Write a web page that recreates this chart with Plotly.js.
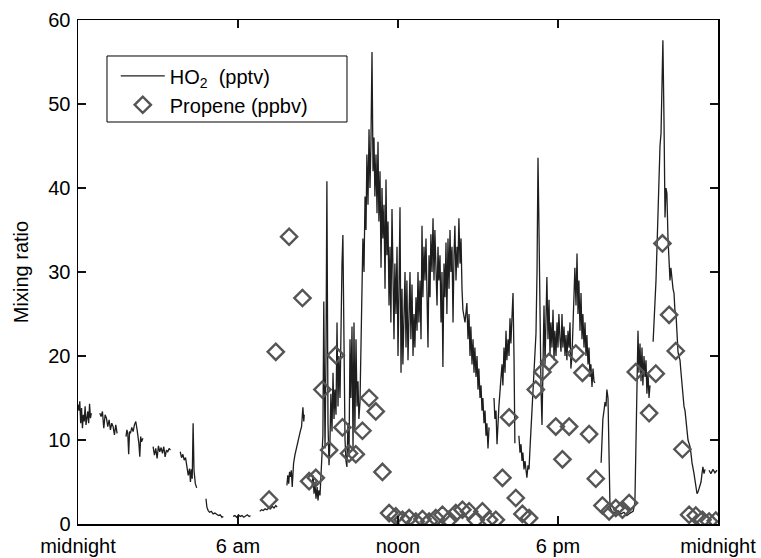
<!DOCTYPE html>
<html><head><meta charset="utf-8">
<script src="https://cdn.plot.ly/plotly-3.0.1.min.js"></script>
<style>html,body{margin:0;padding:0;background:#fff}#chart{width:761px;height:558px}</style>
</head><body><div id="chart"></div>
<script>
// x in minutes since midnight
const timeTicks = [0, 360, 720, 1080, 1440];
const timeTickLabels = ['midnight', '6 am', 'noon', '6 pm', 'midnight'];
const mixingTicks = [0, 10, 20, 30, 40, 50, 60];

const ho2Minutes = [
 0,2,4,6,8,10,12,14,16,18,20,22,24,26,28,30, 40,
 49,52,55,58,61,64,67,70,73,76,79,82,85,88, 98,
 108,110,112,114,116,118,121,124,127,130,133,135,137,139,141,143,146, 158,
 169,172,175,178,181,184,187,190,193,196,199,202,205,208, 220,
 230,233,236,239,242,245,248,251,253,255,257,259,261,264,267, 278,
 288,290,293,296,300,304,308,312,316,320,324,327, 338,
 349,353,357,361,365,369,373,377,381,385,388, 398,
 409,413,417,421,425,429,433,437,441,445,448, 459,
 470,472,474,476,478,480,482,485,488,491,494,497,500,503,506,508,509, 518,
 526.5,529,531,533,535.5,538,540,542,544.5,547,549,551,553,555.8,558,560,562.5,564.8,567,569,571.5,573.8,576,578,580.5,582.8,585,587,589.5,591.8,594,596,598.5,600.8,603,605,607.5,609.8,612,614,616.5,618.8,621,623,625.5,627.8,630,632,634.5,636.8,639,641,643.5,645.8,648,650,652.5,654.8,657,659,661.5,663.8,666,668,670.5,672.8,675,677,679.5,681.8,684,686,688.5,690.8,693,695,697.5,699.8,702,704,706.5,708.8,711,713,715.5,717.8,720,722,724.5,726.8,729,731,733.5,735.8,738,740,742.5,744.8,747,749,751.5,753.8,756,758,760.5,762.8,765,767,769.5,771.8,774,776,778.5,780.8,783,785,787.5,789.8,792,794,796.5,798.8,801,803,805.5,807.8,810,812,814.5,816.8,819,821,823.5,825.8,828,830,832.5,834.8,837,839,841.5,843.8,846,848,850.5,852.8,855,857,859.5,861.8,864,866,870.8,875,877.5,879.8,882,884,886.5,888.8,891,893,895.5,897.8,900,902,904.5,906.8,909,911,913.5,915.8,918,920,922.5,924.8, 929,
 936,938,940.5,942.8,947,951.8,954,956,958.5,960.8,963,965,967.5,969.8,972,974,976.5,978.8,981,983, 988,
 992,994.5,996.8,999,1001,1003.5,1005.8,1008,1010,1012.5,1014.8,1017,1019,1021.5,1023.8,1026,1028,1030.5,1032.8,1035,1037,1039.5,1041.8,1044,1046,1048.5,1050.8,1053,1055,1057.5,1059.8,1062,1064,1066.5,1068.8,1071,1073,1075.5,1077.8,1080,1082,1084.5,1086.8,1089,1091,1093.5,1095.8,1098,1100,1102.5,1104.8,1107,1109,1111.5,1113.8,1116,1118,1120.5,1122.8,1125,1127,1129.5,1131.8,1134,1136,1138.5,1140.8,1143,1145,1147.5,1149.8,1152,1154,1156.5,1158.8,1161,1163, 1170,
 1177,1179,1181,1183.5,1185.8,1188,1190,1192.5,1194.8,1197,1201.5,1208,1215,1222,1228.5,1235,1242,1249,1253,1255.5,1257.8,1260,1262,1264.5,1266.8,1269,1271,1273.5,1275.8,1278,1280,1282.5,1284.8,1287, 1290,
 1294,1296,1298,1300.5,1302.8,1305,1307,1309.5,1311.8,1314,1316,1318.5,1320.8,1323,1325,1327.5,1329.8,1332,1334,1336.5,1338.8,1341,1343,1345.5,1347.8,1350,1352,1354.5,1356.8,1359,1361,1363.5,1365.8,1368,1370,1372.5,1374.8,1377,1379,1381.5,1386,1390.5,1392.8,1395,1399.5,1401.8,1404,1406,1408.5,1410.8, 1415,
 1419.8,1424,1428.8,1433,1437.8
];
const ho2Values = [
 14.2,13.5,14.6,12.0,13.8,11.4,13.0,12.2,14.0,11.8,12.6,13.4,12.0,14.3,12.6,13.2, null,
 13.2,12.8,13.4,11.4,13.0,12.6,11.6,12.4,11.2,12.0,11.6,10.6,11.8,10.8, null,
 10.4,11.2,10.8,8.3,11.0,10.8,11.5,11.0,11.8,12.2,11.2,10.6,9.6,8.0,10.4,9.8,10.2, null,
 9.2,8.2,9.0,7.8,9.3,8.6,9.1,8.4,9.2,8.0,8.8,8.6,9.0,8.8, null,
 8.6,7.9,8.3,7.6,7.9,6.7,5.8,6.6,5.0,6.5,5.4,12.0,6.4,4.8,4.3, null,
 3.0,2.0,1.6,1.4,1.5,1.2,1.3,1.1,1.0,1.1,0.8,0.9, null,
 0.9,1.0,0.8,1.1,0.9,1.0,0.8,1.0,1.1,0.9,1.0, null,
 1.5,1.7,1.6,1.8,1.7,1.9,1.8,2.1,1.9,2.2,2.0, null,
 4.6,5.8,4.8,6.2,5.6,6.4,4.4,7.2,8.2,9.0,9.6,10.2,11.0,11.6,13.9,12.2,13.0, null,
 4.5,5.8,3.6,5.0,3.0,4.4,2.8,4.0,3.4,5.6,8.0,10.5,26.5,9.0,20,40.8,12,7.0,10.0,15.5,11.0,18.0,12.5,16.0,13.0,24.0,14.0,20.0,15.0,28.0,31.0,34.4,18.0,10.0,7.5,6.8,12.0,8.0,22.0,15.0,23.5,9.0,24.0,11.0,22.0,14.0,17.0,12.5,14.5,20.0,26.0,34.0,30.0,39.0,35.0,44.0,38.0,47.0,40.0,45.0,56.2,42.0,46.0,39.0,44.0,37.0,45.5,36.0,42.0,30.5,40.0,34.0,38.0,28.0,41.0,32.0,36.0,26.0,33.0,24.0,37.5,29.0,22.0,31.0,25.0,33.0,20.0,27.0,37.7,18.0,28.0,19.0,26.0,30.0,21.0,29.0,19.5,27.0,30.0,22.0,28.5,20.0,25.0,21.0,27.0,23.0,30.0,24.0,29.0,22.0,35.5,27.0,33.0,29.0,34.0,28.0,21.0,32.0,27.0,34.5,30.0,36.4,29.0,35.0,31.0,26.0,33.0,29.0,32.0,24.0,30.0,18.7,31.0,27.0,33.5,25.0,34.0,28.0,35.0,30.0,33.0,24.0,32.0,35.5,29.0,33.0,30.5,36.4,31.0,34.0,28.0,25.5,24.0,26.3,22.0,25.0,20.0,23.5,19.0,22.0,18.0,21.0,17.5,20.0,16.0,18.5,15.0,16.5,13.5,15.0,12.0,13.5,10.5,12.0,9.0,11.5, null,
 15.0,12.5,13.5,9.5,14.0,17.0,19.0,16.5,21.0,18.0,23.0,19.5,22.0,20.0,24.5,21.5,25.0,27.5,20.0,9.6, null,
 10.5,8.5,9.5,7.5,8.5,6.5,7.5,6.0,5.5,7.0,6.5,9.0,11.0,13.0,15.0,17.0,19.5,22.7,30.0,43.6,36.0,24.0,16.0,11.8,21.0,26.0,19.0,25.0,29.4,22.0,26.7,20.0,24.0,21.0,25.5,19.5,23.0,20.0,24.0,21.0,25.0,22.0,20.5,25.0,21.0,23.5,20.0,22.5,19.5,23.0,21.0,24.0,18.5,20.0,24.0,27.0,30.5,26.0,32.2,25.0,29.0,23.0,27.5,22.0,25.0,21.0,24.0,20.0,22.5,19.0,21.0,17.5,19.0,16.3,18.5,17.0,16.8, null,
 7.3,11.0,12.5,13.5,14.5,14.0,16.0,15.0,10.0,2.0,1.5,1.3,1.6,1.2,1.4,1.0,1.3,1.5,2.5,12.0,20.0,23.0,18.0,21.5,17.0,21.0,16.5,20.0,17.5,19.5,15.5,18.0,15.0,16.5, null,
 21.7,23.5,26.0,29.0,33.0,37.5,42.5,45.0,46.5,52.0,57.6,48.0,36.5,40.0,39.4,34.0,31.0,29.0,30.5,28.5,28.0,27.5,25.5,25.0,22.5,20.5,20.0,19.5,18.0,16.5,16.0,14.0,13.5,12.0,11.0,10.0,9.6,9.2,8.5,7.3,6.0,4.5,3.6,3.8,4.5,5.0,6.0,6.8,6.0,6.5, null,
 6.4,6.0,6.5,6.1,6.4
];

const propeneMinutes = [430,445,475,505,520,535,550,565,580,595,610,625,640,655,670,685,
 700,715,730,745,760,775,790,805,820,835,850,865,880,895,910,925,940,
 955,970,985,1000,1015,1030,1045,1060,1075,1090,1105,1120,1135,1150,1165,1180,1195,1210,1225,1240,1255,
 1285,1300,1315,1330,1345,1360,1375,1390,1405,1420,1435];
const propeneValues = [2.9,20.5,34.2,26.9,5.1,5.5,16.0,8.8,20.1,11.5,8.4,8.3,11.1,15.0,13.4,6.2,
 1.3,0.9,0.5,0.7,0.3,0.6,0.3,0.7,1.1,0.5,1.3,1.7,1.5,0.5,1.5,0.5,0.5,
 5.5,12.7,3.1,1.2,0.7,16.0,18.1,19.3,11.6,7.7,11.6,20.3,18.0,10.7,5.4,2.2,1.5,1.9,1.7,2.5,18.1,
 13.2,17.9,33.4,24.9,20.6,8.9,1.1,1.0,0.5,0.3,0.4];

const FONT = 'Liberation Sans, Arial, Helvetica, sans-serif';

const traces = [
  {
    x: ho2Minutes, y: ho2Values, type: 'scatter', mode: 'lines',
    name: 'HO<sub>2</sub>  (pptv)',
    line: {color: '#1e1e1e', width: 1.3},
    connectgaps: false
  },
  {
    x: propeneMinutes, y: propeneValues, type: 'scatter', mode: 'markers',
    name: 'Propene (ppbv)',
    marker: {symbol: 'diamond-open', size: 12.5, color: '#555', line: {color: '#555', width: 2.4}}
  }
];

const axisCommon = {
  showgrid: false, zeroline: false, showline: true, linecolor: '#000', linewidth: 1.5,
  mirror: 'ticks', ticks: 'inside', ticklen: 8, tickwidth: 2, tickcolor: '#111',
  tickfont: {family: FONT, size: 20, color: '#000'}
};

const layout = {
  width: 761, height: 558,
  margin: {l: 78, r: 43, t: 20, b: 34, pad: 0},
  showlegend: true,
  legend: {
    x: 0.059, y: 0.928, xanchor: 'left', yanchor: 'top',
    bgcolor: 'rgba(0,0,0,0)', borderwidth: 0,
    itemwidth: 44,
    font: {family: FONT, size: 20, color: '#000'}
  },
  shapes: [{
    type: 'rect', xref: 'paper', yref: 'paper',
    x0: 0.0453, x1: 0.4203, y0: 0.7976, y1: 0.9286,
    line: {color: '#000', width: 1}, fillcolor: 'rgba(0,0,0,0)', layer: 'above'
  }],
  xaxis: Object.assign({}, axisCommon, {
    range: [0, 1440], tickvals: timeTicks, ticktext: timeTickLabels,
    ticklabelstandoff: 3
  }),
  yaxis: Object.assign({}, axisCommon, {
    range: [0, 60], tickvals: mixingTicks,
    ticklabelstandoff: 2,
    title: {text: 'Mixing ratio', font: {family: FONT, size: 20, color: '#000'}, standoff: 14}
  })
};

Plotly.newPlot('chart', traces, layout, {displayModeBar: false, staticPlot: true});
</script>
</body></html>
